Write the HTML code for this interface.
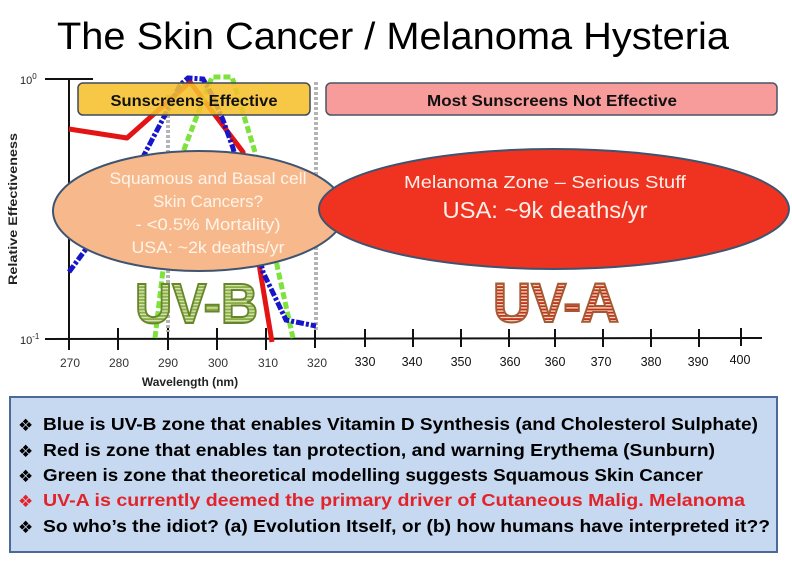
<!DOCTYPE html>
<html><head><meta charset="utf-8"><style>
html,body{margin:0;padding:0;background:#fff;}
svg{display:block;}
</style></head><body>
<svg width="792" height="573" viewBox="0 0 792 573" xmlns="http://www.w3.org/2000/svg">
<defs>
<pattern id="pg" width="4" height="3.2" patternUnits="userSpaceOnUse">
<rect width="4" height="3.2" fill="#d3e2b0"/>
<rect y="1.4" width="4" height="1.8" fill="#8aad48"/>
</pattern>
<pattern id="pr" width="4" height="3.2" patternUnits="userSpaceOnUse">
<rect width="4" height="3.2" fill="#f0d8b8"/>
<rect y="1.4" width="4" height="1.8" fill="#c4301f"/>
</pattern>
</defs>
<rect width="792" height="573" fill="#fff"/>
<!-- Title -->
<text x="57" y="49" font-family="Liberation Sans, sans-serif" font-size="38" fill="#000" textLength="672" lengthAdjust="spacingAndGlyphs">The Skin Cancer / Melanoma Hysteria</text>

<!-- axes -->
<line x1="45" y1="79" x2="93" y2="79" stroke="#111" stroke-width="2"/>
<line x1="69" y1="79" x2="69" y2="340" stroke="#111" stroke-width="2"/>
<line x1="45" y1="339" x2="762" y2="338" stroke="#111" stroke-width="2"/>
<g stroke="#111" stroke-width="2">
<line x1="69" y1="328" x2="69" y2="350"/>
<line x1="118" y1="328" x2="118" y2="350"/>
<line x1="168" y1="328" x2="168" y2="350"/>
<line x1="217" y1="328" x2="217" y2="350"/>
<line x1="266" y1="328" x2="266" y2="350"/>
<line x1="315" y1="328" x2="315" y2="348"/>
<line x1="365" y1="329" x2="365" y2="347"/>
<line x1="413" y1="329" x2="413" y2="347"/>
<line x1="461" y1="329" x2="461" y2="347"/>
<line x1="509" y1="329" x2="509" y2="347"/>
<line x1="555" y1="329" x2="555" y2="347"/>
<line x1="603" y1="329" x2="603" y2="347"/>
<line x1="651" y1="329" x2="651" y2="347"/>
<line x1="699" y1="329" x2="699" y2="347"/>
<line x1="741" y1="328" x2="741" y2="346"/>
</g>
<g font-family="Liberation Sans, sans-serif" font-size="12" fill="#333" text-anchor="middle">
<text x="70" y="367">270</text>
<text x="119" y="367">280</text>
<text x="168" y="367">290</text>
<text x="218" y="367">300</text>
<text x="268" y="367">310</text>
<text x="317" y="367">320</text>
</g>
<g font-family="Liberation Sans, sans-serif" font-size="12.5" fill="#111" text-anchor="middle">
<text x="365" y="366">330</text>
<text x="412" y="366">340</text>
<text x="461" y="366">350</text>
<text x="510" y="366">360</text>
<text x="555" y="366">360</text>
<text x="601" y="366">370</text>
<text x="651" y="366">380</text>
<text x="698" y="366">390</text>
<text x="740" y="364">400</text>
</g>
<text x="190" y="386" font-family="Liberation Sans, sans-serif" font-size="12" font-weight="bold" fill="#222" text-anchor="middle">Wavelength (nm)</text>
<text transform="translate(17,209) rotate(-90)" font-family="Liberation Sans, sans-serif" font-size="12" font-weight="bold" fill="#222" text-anchor="middle" textLength="152" lengthAdjust="spacingAndGlyphs">Relative Effectiveness</text>
<text x="20" y="84" font-family="Liberation Sans, sans-serif" font-size="11" fill="#222">10<tspan dy="-5" font-size="8">0</tspan></text>
<text x="20" y="344" font-family="Liberation Sans, sans-serif" font-size="11" fill="#222">10<tspan dy="-5" font-size="8">-1</tspan></text>

<!-- gray dashed verticals -->
<line x1="168" y1="95" x2="168" y2="332" stroke="#b4b4b4" stroke-width="4" stroke-dasharray="3 2"/>
<line x1="316" y1="82" x2="316" y2="330" stroke="#b4b4b4" stroke-width="4" stroke-dasharray="3 2"/>

<!-- curves -->
<polyline points="69,129 127,138 190,82 243,152 260,270 272,342" fill="none" stroke="#e31414" stroke-width="5" stroke-linejoin="round"/>
<polyline points="155,338 163,270 183,152 212,77 232,77 255,152 278,270 293,338" fill="none" stroke="#7ee23c" stroke-width="5" stroke-dasharray="7 3"/>
<polyline points="69,272 100,230 143,157 165,115 180,85 188,78 203,79 212,95 223,120 233,148 263,272 286,320 316,326" fill="none" stroke="#1616c8" stroke-width="5" stroke-dasharray="8 2 3 2"/>

<!-- boxes -->
<rect x="78" y="83" width="232" height="32" rx="5" fill="#f6c02c" fill-opacity="0.88" stroke="#3e4a5a" stroke-width="1.5"/>
<text x="194" y="106" font-family="Liberation Sans, sans-serif" font-size="15.5" font-weight="bold" fill="#111" text-anchor="middle" textLength="167" lengthAdjust="spacingAndGlyphs">Sunscreens Effective</text>
<rect x="326" y="83" width="451" height="32" rx="5" fill="#f79b9b" stroke="#4a5466" stroke-width="1.5"/>
<text x="552" y="106" font-family="Liberation Sans, sans-serif" font-size="15.5" font-weight="bold" fill="#111" text-anchor="middle" textLength="250" lengthAdjust="spacingAndGlyphs">Most Sunscreens Not Effective</text>

<!-- ellipses -->
<ellipse cx="199" cy="211" rx="146" ry="60" fill="#f7b98c" stroke="#3e5470" stroke-width="2"/>
<g font-family="Liberation Sans, sans-serif" font-size="16.5" fill="#fff4ea" text-anchor="middle">
<text x="208" y="184" textLength="197" lengthAdjust="spacingAndGlyphs">Squamous and Basal cell</text>
<text x="208" y="207" textLength="110" lengthAdjust="spacingAndGlyphs">Skin Cancers?</text>
<text x="208" y="230" textLength="145" lengthAdjust="spacingAndGlyphs">- &lt;0.5% Mortality)</text>
<text x="208" y="253" textLength="153" lengthAdjust="spacingAndGlyphs">USA: ~2k deaths/yr</text>
</g>
<ellipse cx="554" cy="209" rx="235" ry="60" fill="#f03320" stroke="#3e5470" stroke-width="2"/>
<text x="545" y="188" font-family="Liberation Sans, sans-serif" font-size="17.5" fill="#fff0ea" text-anchor="middle" textLength="282" lengthAdjust="spacingAndGlyphs">Melanoma Zone – Serious Stuff</text>
<text x="545" y="218" font-family="Liberation Sans, sans-serif" font-size="23" fill="#fff0ea" text-anchor="middle" textLength="205" lengthAdjust="spacingAndGlyphs">USA: ~9k deaths/yr</text>

<!-- UV-B / UV-A -->
<text x="135" y="323" font-family="Liberation Sans, sans-serif" font-size="57" font-weight="bold" fill="url(#pg)" stroke="#67862a" stroke-width="2" textLength="123" lengthAdjust="spacingAndGlyphs">UV-B</text>
<text x="493" y="322" font-family="Liberation Sans, sans-serif" font-size="56" font-weight="bold" fill="url(#pr)" stroke="#a35a32" stroke-width="2" textLength="126" lengthAdjust="spacingAndGlyphs">UV-A</text>

<!-- bottom box -->
<rect x="10" y="397" width="767" height="155" fill="#c6d9f1" stroke="#4a6a9a" stroke-width="2"/>
<g font-family="Liberation Sans, sans-serif" font-size="17.5" font-weight="bold" fill="#000">
<text x="18" y="431" font-family="DejaVu Sans, sans-serif" font-size="17" font-weight="normal">❖</text>
<text x="43" y="430" textLength="715" lengthAdjust="spacingAndGlyphs">Blue is UV-B zone that enables Vitamin D Synthesis (and Cholesterol Sulphate)</text>
<text x="18" y="457" font-family="DejaVu Sans, sans-serif" font-size="17" font-weight="normal">❖</text>
<text x="43" y="456" textLength="672" lengthAdjust="spacingAndGlyphs">Red is zone that enables tan protection, and warning Erythema (Sunburn)</text>
<text x="18" y="482" font-family="DejaVu Sans, sans-serif" font-size="17" font-weight="normal">❖</text>
<text x="43" y="481" textLength="660" lengthAdjust="spacingAndGlyphs">Green is zone that theoretical modelling suggests Squamous Skin Cancer</text>
<text x="18" y="507" font-family="DejaVu Sans, sans-serif" font-size="17" font-weight="normal" fill="#e3232a">❖</text>
<text x="43" y="506" fill="#e3232a" textLength="702" lengthAdjust="spacingAndGlyphs">UV-A is currently deemed the primary driver of Cutaneous Malig. Melanoma</text>
<text x="18" y="533" font-family="DejaVu Sans, sans-serif" font-size="17" font-weight="normal">❖</text>
<text x="43" y="532" textLength="727" lengthAdjust="spacingAndGlyphs">So who’s the idiot? (a) Evolution Itself, or (b) how humans have interpreted it??</text>
</g>
</svg>
</body></html>
